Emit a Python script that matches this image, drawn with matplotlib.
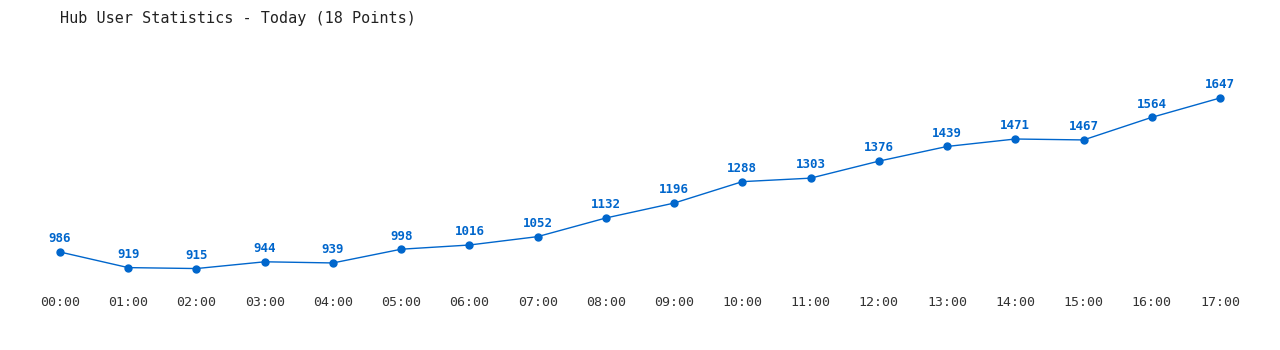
import matplotlib.pyplot as plt
import matplotlib.transforms as mtransforms

hours = ["00:00", "01:00", "02:00", "03:00", "04:00", "05:00", "06:00", "07:00", "08:00",
         "09:00", "10:00", "11:00", "12:00", "13:00", "14:00", "15:00", "16:00", "17:00"]
users = [986, 919, 915, 944, 939, 998, 1016, 1052, 1132,
         1196, 1288, 1303, 1376, 1439, 1471, 1467, 1564, 1647]

blue = "#0066cc"
mono = "DejaVu Sans Mono"

fig = plt.figure(figsize=(12.8, 3.5), dpi=100)
ax = fig.add_axes([0, 0, 1, 1])
ax.set_axis_off()

x = list(range(len(users)))
ax.plot(x, users, color=blue, linewidth=1.0, marker="o", markersize=5)

# axis limits chosen so points land where they sit in the reference
ax.set_xlim(-0.879, 17.879)
ax.set_ylim(565.4, 2067.6)

for xi, v in zip(x, users):
    ax.annotate(str(v), (xi, v), xytext=(0, 9.5), textcoords="offset points",
                ha="center", va="center", color=blue, fontsize=9,
                fontweight="bold", family=mono)

trans = mtransforms.blended_transform_factory(ax.transData, ax.transAxes)
for xi, lab in zip(x, hours):
    ax.text(xi, 1 - 303 / 350, lab, transform=trans, ha="center", va="center",
            fontsize=9.5, color="#333333", family=mono)

fig.text(60 / 1280, 1 - 18 / 350, "Hub User Statistics - Today (18 Points)",
         ha="left", va="center", fontsize=10.9, color="#222222", family=mono)

fig.savefig("out.png", dpi=100)
